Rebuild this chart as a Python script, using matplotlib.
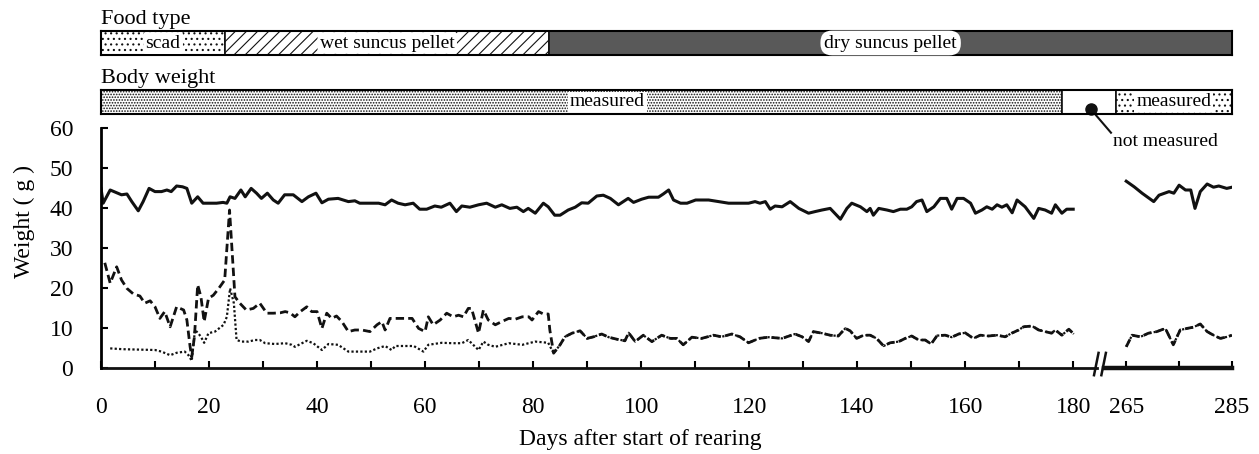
import numpy as np
import matplotlib.pyplot as plt

plt.rcParams['font.family'] = ['Liberation Serif', 'DejaVu Serif']
plt.rcParams['hatch.linewidth'] = 0.8

# body weight (g), solid line
bw_days1 = [0, 0.4, 1.7, 2.9, 3.8, 4.8, 5.7, 6.9, 7.8, 8.9, 10, 11.2, 12.2, 13, 14, 15.1, 15.9, 16.8, 17.9, 18.9,
            20.2, 21.4, 22.6, 23.3, 23.9, 24.8, 25.9, 26.7, 27.8, 28.8, 29.7, 30.8, 31.9, 32.8, 34, 35.6,
            37.2, 38.4, 39.8, 40.9, 42.1, 43.9, 45.8, 47, 47.9, 51.4, 52.6, 53.8, 55, 56.3, 57.8, 59, 60.3, 61.8,
            63, 64.6, 65.8, 66.8, 68.3, 69.9, 71.4, 73, 74.2, 75.7, 77, 78.2, 79.1, 80.4, 81.9, 82.8, 84,
            85, 86.5, 87.8, 89, 90.2, 91.8, 93, 94.3, 95.8, 97.6, 98.6, 100.1, 101.4, 103.2, 104.1, 105.1, 106,
            107.3, 108.5, 110.1, 112.5, 114.3, 116.2, 119.9, 121.1, 122, 123, 123.9, 124.8, 126.1, 127.6, 129.2, 131,
            132.2, 133.5, 135, 136.9, 138.1, 139, 140.6, 141.8, 142.4, 143, 144, 145.5, 146.7, 148, 149.2, 150.1,
            151, 152, 152.9, 154.2, 155.4, 156.6, 157.5, 158.5, 159.7, 161, 161.9, 163.1, 164, 165, 165.9, 166.8,
            167.7, 168.7, 169.6, 171.1, 172.7, 173.6, 174.8, 176, 176.7, 177.9, 178.8, 180]
bw_vals1 = [44.9, 41.2, 44.5, 43.8, 43.3, 43.5, 41.6, 39.3, 41.6, 44.9, 44.1, 44.1, 44.5, 44.1, 45.5, 45.3, 44.9, 41.2, 42.8, 41.2,
            41.2, 41.2, 41.4, 41.2, 42.8, 42.4, 44.5, 42.8, 44.9, 43.7, 42.4, 43.7, 42.0, 41.2, 43.3, 43.3,
            41.6, 42.8, 43.7, 41.3, 42.2, 42.4, 41.6, 41.8, 41.2, 41.2, 40.8, 42.0, 41.2, 40.8, 41.2, 39.7, 39.7, 40.5,
            40.2, 41.2, 39.1, 40.5, 40.2, 40.8, 41.2, 40.2, 40.8, 39.9, 40.2, 39.1, 39.9, 38.7, 41.2, 40.3, 38.2,
            38.2, 39.5, 40.2, 41.3, 41.2, 43.0, 43.2, 42.4, 40.8, 42.4, 41.4, 42.2, 42.7, 42.7, 43.5, 44.5, 42.0,
            41.2, 41.2, 42.0, 42.0, 41.6, 41.2, 41.2, 41.6, 41.2, 41.6, 39.7, 40.5, 40.3, 41.6, 39.9, 38.7,
            39.1, 39.5, 39.9, 37.2, 39.9, 41.2, 40.3, 39.1, 39.9, 38.2, 39.9, 39.5, 39.1, 39.7, 39.7, 40.3,
            41.6, 42.0, 39.1, 40.3, 42.4, 42.4, 39.7, 42.4, 42.4, 41.2, 38.7, 39.5, 40.3, 39.7, 40.8, 40.2,
            40.8, 38.8, 42.0, 40.3, 37.4, 39.9, 39.5, 38.7, 40.8, 38.7, 39.7, 39.7]
bw_days2 = [265, 266.5, 268, 270.2, 271.2, 273.1, 274, 275, 276.2, 277.2, 278, 279, 280.3, 281.5, 282.5, 284, 285]
bw_vals2 = [46.7, 45.3, 43.7, 41.6, 43.2, 44.1, 43.7, 45.7, 44.5, 44.5, 39.9, 44.1, 46.0, 45.2, 45.5, 44.9, 45.2]

# food intake while eating scad / wet pellet: dashed (wet weight) and dotted (dry weight)
wet_days = [0.7, 1.7, 2.9, 3.8, 4.8, 6, 7.2, 8.1, 9.1, 10, 10.9, 11.8, 12.8, 14, 15.3, 15.9, 16.5, 16.8, 17.3, 17.9,
            18.5, 19.1, 19.9, 20.8, 21.8, 22.9, 23.8, 24.8, 25.7, 26.9, 28.2, 29.4, 30.7, 31.9, 33.2, 34.1, 35,
            35.9, 36.9, 38.1, 39, 40, 40.9, 41.8, 42.7, 43.6, 44.6, 45.8, 47, 48.3, 49.8, 51.1, 52, 52.6, 53.5,
            57.6, 58.8, 60, 60.6, 61.5, 62.8, 64, 65.2, 66.2, 67.1, 68, 68.6, 69.9, 70.8, 71.7, 73, 74.2, 75.5,
            76.7, 78, 79.2, 79.8, 81, 81.9, 82.8, 83.1]
wet_vals = [26.3, 21.2, 25.3, 22.0, 19.9, 18.5, 18.0, 16.2, 16.8, 15.3, 12.4, 14.1, 10.3, 15.3, 14.5, 12.0, 5.3, 2.8, 7.8, 20.8,
            17.8, 11.6, 17.4, 18.2, 19.9, 22.0, 39.5, 17.8, 16.2, 14.5, 14.9, 16.2, 13.7, 13.7, 13.8, 14.1, 13.8,
            12.8, 14.1, 15.3, 14.1, 14.1, 9.9, 13.7, 12.4, 13.0, 11.6, 9.1, 9.5, 9.5, 9.1, 10.8, 11.6, 9.5, 12.4,
            12.4, 9.9, 9.1, 12.8, 10.8, 12.0, 13.7, 12.8, 13.2, 12.8, 14.9, 14.9, 8.7, 14.5, 12.0, 10.8, 11.6, 12.4,
            12.2, 12.8, 12.8, 12.0, 14.1, 13.5, 13.5, 9.5]
dry_days = [1.7, 4, 7, 10, 11.2, 12.8, 14, 15.5, 16.2, 16.8, 17.4, 18, 18.5, 19.1, 19.9, 21.1, 22.7, 23.3, 23.9, 24.6,
            25.1, 26, 27.3, 28.5, 29.4, 30.4, 32.2, 34.1, 35.3, 35.9, 38.1, 39.3, 40.9, 42.1, 43.9, 45.8, 49.8,
            51.1, 52.6, 53.8, 54.5, 57.9, 59.7, 60.6, 63.1, 65, 66.8, 68, 69.9, 70.8, 71.7, 73, 75.5, 78, 80.4, 82.8]
dry_vals = [4.9, 4.7, 4.6, 4.5, 4.1, 3.2, 3.8, 4.1, 3.2, 1.8, 9.5, 8.7, 7.8, 6.3, 8.7, 9.1, 10.8, 12.8, 19.9, 16.2,
            7.0, 6.6, 6.6, 7.0, 7.0, 6.2, 6.0, 6.2, 5.8, 5.3, 6.8, 6.2, 4.5, 6.0, 5.8, 4.1, 4.1,
            4.9, 5.5, 4.5, 5.5, 5.5, 4.1, 5.8, 6.3, 6.2, 6.2, 7.0, 4.5, 6.6, 5.8, 5.3, 6.2, 5.8, 6.6, 6.3]

# dry suncus pellet period: both intake series coincide
pel_days1 = [83.8, 85, 85.9, 87.2, 88.7, 90, 91.2, 92.7, 94, 95.5, 97, 97.7, 98.9, 100.4, 102, 103.8, 105.4, 106.6,
             107.8, 109.4, 111.2, 113.4, 114.9, 116.8, 118.3, 119.9, 121.8, 123.6, 126.1, 128.5, 129.8, 131, 131.9,
             133.5, 135, 136.5, 137.8, 138.7, 139.9, 141.2, 142.4, 143.6, 144.9, 146.1, 147.7, 148.9, 150.1, 151.4,
             152.6, 153.7, 154.8, 156.3, 157.5, 158.8, 160, 161.5, 162.8, 164.3, 165.9, 167.4, 168.6, 169.9, 170.8,
             172.4, 173.6, 174.8, 176, 176.7, 177.9, 179.2, 180.1]
pel_vals1 = [3.7, 5.8, 7.8, 8.7, 9.3, 7.4, 7.8, 8.5, 7.7, 7.2, 6.8, 8.8, 6.6, 8.2, 6.6, 8.2, 7.4, 7.4,
             5.8, 7.7, 7.4, 8.2, 7.8, 8.5, 7.8, 6.3, 7.4, 7.7, 7.4, 8.5, 7.8, 6.6, 9.1,
             8.7, 8.2, 8.0, 9.9, 9.3, 7.4, 8.2, 8.2, 7.4, 5.5, 6.3, 6.6, 7.4, 8.0, 7.0,
             7.0, 6.0, 8.1, 8.2, 7.7, 8.5, 8.8, 7.4, 8.2, 8.0, 8.2, 7.8, 8.7, 9.5, 10.3,
             10.5, 9.5, 9.1, 8.7, 9.5, 8.2, 9.7, 8.5]
pel_days2 = [265, 266.1, 267.7, 269.2, 270.8, 272.4, 273.9, 275.2, 276.5, 277.7, 279, 280.3, 281.5, 282.8, 284.1, 285]
pel_vals2 = [5.3, 8.2, 7.8, 8.7, 9.1, 9.9, 5.8, 9.5, 9.9, 10.2, 11.0, 9.1, 8.2, 7.4, 7.8, 8.2]

food_labels = ['scad', 'wet suncus pellet', 'dry suncus pellet']
food_start = [0, 23, 83]
food_end = [23, 83, 285]

bw_labels = ['measured', '', 'measured']
bw_start = [0, 178, 263]
bw_end = [178, 263, 285]

x_major = [0, 20, 40, 60, 80, 100, 120, 140, 160, 180, 265, 285]
x_minor = [10, 30, 50, 70, 90, 110, 130, 150, 170, 275]
y_ticks = [0, 10, 20, 30, 40, 50, 60]

# compress the gap between day 184 and day 261
brk_in = [-1000, 0, 184, 261, 285, 1285]
brk_out = [-1000, 0, 184, 185.9, 209.4, 1209.4]


def fwd(x):
    return np.interp(x, brk_in, brk_out)


def inv(x):
    return np.interp(x, brk_out, brk_in)


def mid(s, e):
    # centre of a segment as it is drawn on the compressed axis
    return float(inv((fwd(s) + fwd(e)) / 2))


fig = plt.figure(figsize=(12.59, 4.54), dpi=100)
L = 101 / 1259
W = 1131 / 1259
ax = fig.add_axes([L, 86 / 454, W, 240 / 454])
ax_food = fig.add_axes([L, 399 / 454, W, 24 / 454], sharex=ax)
ax_bw = fig.add_axes([L, 340 / 454, W, 24 / 454], sharex=ax)
ax.set_xscale('function', functions=(fwd, inv))

k = '#111111'
nan = [np.nan]
wet_x = wet_days + pel_days1 + nan + pel_days2
wet_y = wet_vals + pel_vals1 + nan + pel_vals2
dry_x = dry_days + pel_days1 + nan + pel_days2
dry_y = dry_vals + pel_vals1 + nan + pel_vals2
ax.plot(bw_days1 + nan + bw_days2, bw_vals1 + nan + bw_vals2, color=k, lw=2.2)
ax.plot(wet_x, wet_y, color=k, lw=2.0, ls=(0, (3, 1.5)))
ax.plot(dry_x, dry_y, color=k, lw=1.6, ls=(0, (1, 1)))

ax.set_xlim(0, 285)
ax.set_ylim(0, 60)
ax.set_xticks(x_major)
ax.set_xticks(x_minor, minor=True)
ax.set_yticks(y_ticks)
ax.tick_params(axis='both', which='both', direction='in', length=5, width=1.5, labelsize=17)
ax.tick_params(axis='x', which='both', pad=21)
ax.tick_params(axis='y', pad=20)
for s in ['top', 'right', 'bottom']:
    ax.spines[s].set_visible(False)
ax.spines['left'].set_linewidth(2)

# broken x axis line with "//" marks
ax.axhline(0, xmin=0, xmax=0.8805, color=k, lw=2, clip_on=False)
ax.axhline(0, xmin=0.8865, xmax=1.0, color=k, lw=3.2, clip_on=False)
for x0 in [0.878, 0.8845]:
    ax.plot([x0, x0 + 0.004], [-0.03, 0.063], transform=ax.transAxes, color=k, lw=1.8, clip_on=False)

ax.set_xlabel('Days after start of rearing', fontsize=17)
ax.xaxis.set_label_coords(0.477, -0.255)
ax.set_ylabel('Weight ( g )', fontsize=17)
ax.yaxis.set_label_coords(-0.058, 0.61)

# food type bar
food_style = [dict(facecolor='white', hatch='...'),
              dict(facecolor='white', hatch='///'),
              dict(facecolor='#595959')]
for lab, s, e, st in zip(food_labels, food_start, food_end, food_style):
    ax_food.barh(0.5, e - s, left=s, height=1, edgecolor=k, lw=1.2, **st)
    box = dict(boxstyle='round,pad=0.12', facecolor='white', edgecolor='none')
    if lab == 'dry suncus pellet':
        box = dict(boxstyle='round,pad=0.2,rounding_size=0.6', facecolor='white', edgecolor='none')
    ax_food.text(mid(s, e), 0.5, lab, ha='center', va='center', fontsize=14, bbox=box)

# body weight bar
bw_style = [dict(facecolor='white', hatch='......'),
            dict(facecolor='white'),
            dict(facecolor='white', hatch='...')]
for lab, s, e, st in zip(bw_labels, bw_start, bw_end, bw_style):
    ax_bw.barh(0.5, e - s, left=s, height=1, edgecolor=k, lw=1.2, **st)
    if lab:
        xc = 93.7 if s == 0 else mid(s, e)
        ax_bw.text(xc, 0.5, lab, ha='center', va='center', fontsize=14,
                   bbox=dict(boxstyle='square,pad=0.1', facecolor='white', edgecolor='none'))

for a, title in [(ax_food, 'Food type'), (ax_bw, 'Body weight')]:
    a.set_ylim(0, 1)
    a.tick_params(left=False, labelleft=False, bottom=False, labelbottom=False, which='both')
    for s in a.spines.values():
        s.set_linewidth(1.5)
    a.text(0.0, 1.08, title, transform=a.transAxes, ha='left', va='bottom', fontsize=16)

# "not measured" pointer
ax_bw.plot([0.875, 0.893], [0.21, -0.78], transform=ax_bw.transAxes, color=k, lw=1.5, clip_on=False)
ax_bw.plot([0.875], [0.21], 'o', ms=8, color=k, transform=ax_bw.transAxes, clip_on=False)
ax_bw.text(0.895, -1.15, 'not measured', transform=ax_bw.transAxes, ha='left', va='center', fontsize=14)

fig.savefig('out.png', dpi=100)
